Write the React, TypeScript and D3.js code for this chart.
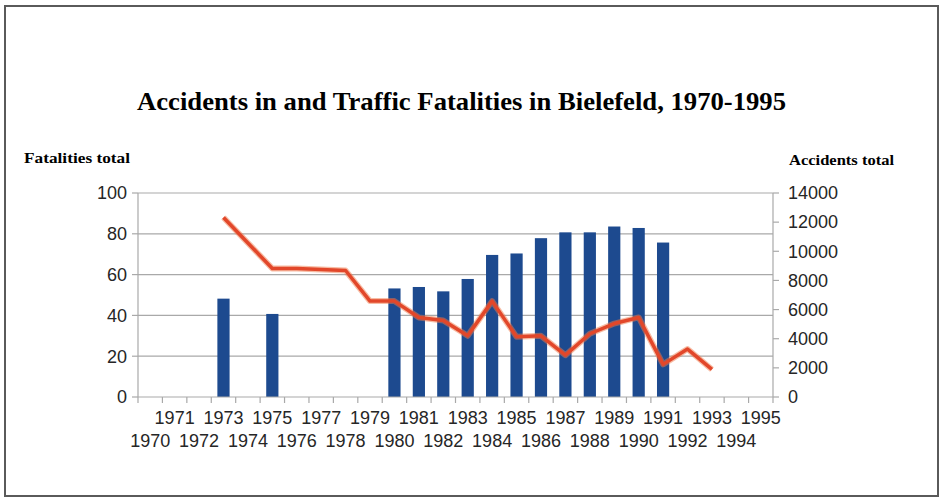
import React from "react";
import * as d3 from "d3";

const years: number[] = [1970,1971,1972,1973,1974,1975,1976,1977,1978,1979,1980,1981,1982,1983,1984,1985,1986,1987,1988,1989,1990,1991,1992,1993,1994,1995];

const accidentYears: number[] = [1973,1975,1980,1981,1982,1983,1984,1985,1986,1987,1988,1989,1990,1991];
const accidentValues: number[] = [6750,5700,7450,7550,7250,8100,9750,9850,10900,11300,11300,11700,11600,10600];

const fatalityYears: number[] = [1973,1974,1975,1976,1977,1978,1979,1980,1981,1982,1983,1984,1985,1986,1987,1988,1989,1990,1991,1992,1993];
const fatalityValues: number[] = [88,75.5,63,63,62.5,62,47,47,39,37.5,30,47,29.5,30,20.5,31,36,39,16,23.5,13.5];

const leftTicks: number[] = [0,20,40,60,80,100];
const rightTicks: number[] = [0,2000,4000,6000,8000,10000,12000,14000];

const title = "Accidents in and Traffic Fatalities in Bielefeld, 1970-1995";
const leftAxisTitle = "Fatalities total";
const rightAxisTitle = "Accidents total";

export default function App() {
  const W = 945, H = 502;
  const left = 138, right = 773, top = 193, bottom = 397;

  const x = d3.scaleBand<number>().domain(years).range([left, right]).paddingInner(0).paddingOuter(0);
  const yL = d3.scaleLinear().domain([0, 100]).range([bottom, top]);
  const yR = d3.scaleLinear().domain([0, 14000]).range([bottom, top]);

  const bw = x.bandwidth() * 0.5;
  const cx = (yr: number) => (x(yr) as number) + x.bandwidth() / 2;

  const line = d3.line<number>()
    .x((_, i) => cx(fatalityYears[i]))
    .y((d) => yL(d));

  const sans = "'Liberation Sans', Arial, sans-serif";
  const serif = "'Liberation Serif', 'Times New Roman', serif";
  const gridColor = "#a9a9a9";
  const tickText = "#262626";

  const boundaries = years.map((y) => x(y) as number).concat([right]);

  return (
    <svg width={W} height={H} style={{ position: "absolute", left: 0, top: 0, background: "#fff" }}>
      <rect x={0} y={0} width={W} height={H} fill="#fff" />
      <rect x={5} y={6} width={933} height={490} fill="none" stroke="#5a5a5a" strokeWidth={2} />

      <text x={137} y={110} fontFamily={serif} fontWeight="bold" fontSize={26} textLength={649} lengthAdjust="spacingAndGlyphs" fill="#000">{title}</text>
      <text x={24} y={163} fontFamily={serif} fontWeight="bold" fontSize={15} textLength={106} lengthAdjust="spacingAndGlyphs" fill="#000">{leftAxisTitle}</text>
      <text x={789} y={165} fontFamily={serif} fontWeight="bold" fontSize={15} textLength={105} lengthAdjust="spacingAndGlyphs" fill="#000">{rightAxisTitle}</text>

      {leftTicks.filter((t) => t > 0).map((t) => (
        <line key={"g" + t} x1={left} x2={right} y1={yL(t)} y2={yL(t)} stroke={gridColor} strokeWidth={1.2} />
      ))}

      <line x1={left} x2={left} y1={top} y2={bottom} stroke={gridColor} strokeWidth={1.2} />
      {leftTicks.map((t) => (
        <g key={"l" + t}>
          <line x1={left - 6} x2={left} y1={yL(t)} y2={yL(t)} stroke={gridColor} strokeWidth={1.2} />
          <text x={127} y={yL(t)} dy="0.35em" textAnchor="end" fontFamily={sans} fontSize={18} fill={tickText}>{t}</text>
        </g>
      ))}

      <line x1={right} x2={right} y1={top} y2={bottom} stroke={gridColor} strokeWidth={1.2} />
      {rightTicks.map((t) => (
        <g key={"r" + t}>
          <line x1={right} x2={right + 6} y1={yR(t)} y2={yR(t)} stroke={gridColor} strokeWidth={1.2} />
          <text x={788} y={yR(t)} dy="0.35em" textAnchor="start" fontFamily={sans} fontSize={18} fill={tickText}>{t}</text>
        </g>
      ))}

      {accidentYears.map((yr, i) => (
        <rect key={"b" + yr} x={cx(yr) - bw / 2} y={yR(accidentValues[i])} width={bw} height={bottom - yR(accidentValues[i])} fill="#1d4a8f" />
      ))}

      <line x1={left} x2={right} y1={bottom} y2={bottom} stroke={gridColor} strokeWidth={1.2} />
      {boundaries.map((b, i) => (
        <line key={"t" + i} x1={b} x2={b} y1={bottom} y2={bottom + 6} stroke={gridColor} strokeWidth={1.2} />
      ))}
      {years.map((yr) => (
        <text key={"y" + yr} x={cx(yr)} y={yr % 2 === 1 ? 424 : 447} textAnchor="middle" fontFamily={sans} fontSize={18} fill={tickText}>{yr}</text>
      ))}

      <path d={line(fatalityValues) || ""} fill="none" stroke="#f07a4a" strokeOpacity={0.5} strokeWidth={6} strokeLinejoin="round" />
      <path d={line(fatalityValues) || ""} fill="none" stroke="#e2472a" strokeWidth={3.5} strokeLinejoin="round" />
    </svg>
  );
}
